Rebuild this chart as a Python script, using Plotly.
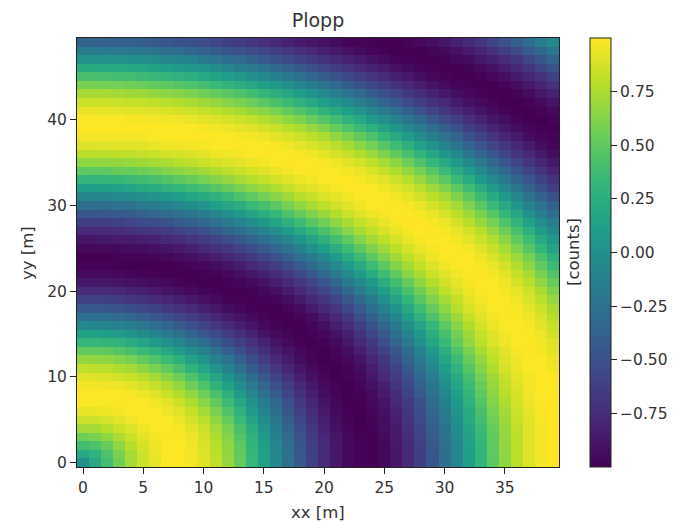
import numpy as np
import plotly.graph_objects as go

x_values = list(range(40))
y_values = list(range(50))
x_ticks = [0, 5, 10, 15, 20, 25, 30, 35]
y_ticks = [0, 10, 20, 30, 40]
cbar_ticks = [-0.75, -0.5, -0.25, 0, 0.25, 0.5, 0.75]

# cell values, in hundredths of a count; first row is yy = 0
counts_x100 = [
[0,20,39,56,72,84,93,99,100,97,91,81,68,52,33,14,-6,-26,-44,-61,-76,-87,-95,-99,-100,-96,-88,-77,-63,-46,-28,-8,12,31,49,66,79,90,97,100],
[20,28,43,59,73,85,94,99,100,97,90,80,67,51,33,13,-7,-26,-45,-61,-76,-87,-95,-99,-100,-96,-88,-77,-63,-46,-27,-8,12,31,50,66,80,90,97,100],
[39,43,53,66,78,88,95,100,100,96,89,79,66,50,31,12,-8,-27,-46,-62,-76,-88,-95,-99,-100,-96,-87,-76,-62,-45,-27,-7,13,32,50,67,80,91,98,100],
[56,59,66,75,84,92,97,100,99,95,87,76,62,46,28,8,-12,-32,-48,-64,-78,-88,-96,-99,-100,-95,-86,-75,-60,-43,-25,-5,14,33,51,67,80,91,97,100],
[72,73,78,84,90,96,99,100,98,92,84,72,58,41,23,3,-17,-36,-53,-68,-81,-91,-97,-100,-99,-93,-85,-73,-58,-41,-23,-3,17,36,53,68,81,91,97,100],
[84,85,88,92,96,99,100,99,95,88,79,66,52,35,17,-2,-20,-40,-57,-71,-83,-92,-98,-100,-98,-93,-83,-70,-55,-38,-19,1,21,39,56,71,83,92,98,100],
[93,94,95,97,99,100,99,96,91,83,72,59,44,28,9,-9,-28,-45,-61,-75,-86,-94,-99,-100,-97,-91,-81,-69,-52,-35,-16,3,22,41,58,72,84,93,98,100],
[99,99,99,100,100,99,96,92,85,76,64,51,36,19,1,-17,-34,-51,-66,-79,-89,-96,-100,-100,-96,-89,-78,-65,-49,-31,-12,7,27,45,62,76,87,95,99,100],
[100,100,100,99,98,95,91,85,77,67,55,41,26,9,-8,-26,-42,-58,-71,-83,-92,-98,-100,-99,-94,-86,-75,-60,-44,-26,-7,12,31,49,65,78,88,96,99,100],
[97,97,96,95,92,88,83,76,67,56,44,29,14,-2,-19,-35,-51,-64,-77,-87,-95,-99,-100,-97,-91,-83,-70,-56,-39,-21,-2,17,36,53,68,81,90,97,100,99],
[91,90,89,87,84,79,72,64,55,44,31,17,2,-13,-29,-45,-59,-71,-83,-91,-97,-100,-99,-96,-88,-78,-65,-51,-34,-16,3,22,40,57,71,83,92,97,100,100],
[81,80,79,76,72,66,59,51,41,29,17,3,-11,-26,-41,-55,-68,-79,-88,-95,-99,-100,-98,-93,-84,-73,-59,-44,-26,-8,11,29,47,63,76,87,95,99,100,97],
[68,67,66,62,58,52,44,36,26,14,2,-11,-25,-39,-52,-64,-76,-85,-93,-98,-100,-99,-96,-89,-79,-67,-52,-36,-19,-1,18,36,53,67,80,90,96,100,99,95],
[52,51,50,46,41,35,28,19,9,-2,-13,-26,-39,-51,-62,-73,-83,-90,-96,-99,-100,-97,-92,-84,-73,-60,-45,-29,-11,7,25,43,59,73,84,92,98,100,98,93],
[33,33,31,28,23,17,9,1,-8,-19,-29,-41,-52,-62,-72,-81,-89,-95,-99,-100,-99,-95,-87,-78,-66,-52,-36,-19,-1,17,35,52,67,80,89,96,99,100,97,91],
[14,13,12,8,3,-2,-9,-17,-26,-35,-45,-55,-64,-73,-81,-89,-95,-98,-100,-99,-96,-90,-82,-71,-58,-44,-28,-10,7,24,41,57,71,82,91,97,100,99,95,87],
[-6,-7,-8,-11,-15,-20,-28,-34,-42,-51,-59,-68,-76,-83,-89,-95,-98,-100,-100,-97,-92,-84,-75,-63,-49,-34,-18,-1,17,33,49,64,77,87,94,99,100,98,92,84],
[-26,-26,-27,-30,-34,-40,-45,-51,-58,-64,-71,-79,-85,-90,-95,-98,-100,-100,-97,-93,-86,-77,-66,-53,-39,-24,-7,10,27,43,58,71,82,91,97,100,99,96,89,79],
[-44,-45,-46,-48,-52,-57,-60,-66,-71,-77,-83,-88,-93,-96,-99,-100,-100,-97,-93,-86,-78,-68,-56,-43,-28,-12,4,21,37,52,66,78,88,94,99,100,98,93,85,74],
[-61,-61,-62,-64,-68,-71,-75,-79,-83,-87,-91,-95,-98,-99,-100,-99,-97,-93,-86,-78,-68,-58,-45,-31,-16,0,16,32,47,61,73,83,92,97,100,99,96,89,80,68],
[-76,-76,-76,-78,-81,-83,-86,-89,-92,-95,-97,-99,-100,-100,-99,-96,-92,-86,-78,-68,-58,-46,-33,-19,-4,12,27,42,56,69,80,89,95,99,100,98,93,85,75,61],
[-87,-87,-88,-89,-91,-92,-94,-96,-98,-99,-100,-100,-99,-97,-95,-90,-84,-77,-68,-58,-46,-34,-19,-5,9,24,39,53,66,77,86,93,98,100,99,95,88,79,67,53],
[-95,-95,-95,-96,-97,-98,-99,-100,-100,-100,-99,-98,-96,-92,-87,-82,-75,-66,-56,-45,-33,-19,-6,8,23,37,50,64,74,84,91,97,100,100,97,92,83,73,59,44],
[-99,-99,-99,-100,-100,-100,-100,-100,-99,-97,-96,-93,-89,-84,-78,-71,-63,-53,-43,-31,-19,-5,8,22,36,49,62,73,82,90,96,99,100,98,94,87,77,65,51,36],
[-100,-100,-100,-99,-99,-98,-97,-96,-94,-91,-88,-84,-79,-73,-66,-58,-49,-39,-28,-16,-4,9,23,36,49,61,72,81,88,95,99,100,99,95,89,80,70,58,43,26],
[-96,-96,-96,-95,-94,-93,-91,-89,-86,-83,-78,-73,-67,-60,-52,-44,-34,-24,-12,0,12,24,37,49,61,71,80,88,94,98,100,99,97,91,83,73,61,47,32,15],
[-88,-88,-87,-86,-85,-83,-81,-78,-75,-70,-65,-59,-52,-45,-36,-28,-18,-7,4,16,27,39,50,62,72,80,88,94,98,100,100,97,92,85,76,65,51,37,21,5],
[-77,-77,-76,-75,-73,-70,-68,-65,-60,-56,-51,-44,-36,-29,-19,-10,-1,10,21,32,42,53,64,73,81,88,94,98,100,100,98,93,87,78,67,55,41,26,10,-6],
[-63,-63,-62,-60,-58,-55,-52,-49,-44,-39,-33,-26,-19,-11,-2,7,17,27,37,47,56,66,74,82,88,94,98,100,100,98,94,87,79,69,58,44,30,14,-2,-17],
[-46,-46,-45,-44,-41,-38,-35,-31,-26,-21,-16,-8,-1,7,16,24,33,43,52,61,69,77,84,90,95,98,100,100,98,94,88,80,71,59,47,33,18,2,-14,-29],
[-28,-27,-27,-25,-23,-19,-16,-12,-7,-2,3,11,18,25,35,41,49,58,66,73,80,86,91,96,99,100,100,98,94,88,81,72,61,48,35,20,5,-10,-25,-39],
[-8,-8,-7,-5,-3,0,3,7,12,17,22,29,36,43,50,57,64,71,78,83,89,93,97,99,100,99,97,93,87,80,72,61,49,36,22,7,-8,-23,-37,-51],
[12,12,13,14,17,21,23,27,31,36,40,47,53,59,65,71,76,82,88,91,95,98,100,100,99,97,92,87,79,71,61,49,37,23,9,-6,-21,-36,-49,-62],
[31,31,32,33,36,38,41,45,49,53,58,63,67,73,78,82,87,91,94,97,99,100,100,98,95,91,85,78,69,59,48,36,23,9,-5,-19,-34,-47,-60,-71],
[49,50,50,53,53,56,58,62,65,68,71,76,80,84,88,91,94,97,99,100,100,99,97,94,89,83,76,67,58,47,35,22,9,-5,-18,-33,-46,-58,-70,-80],
[66,66,67,67,69,71,73,75,78,81,84,87,90,92,95,97,99,100,100,99,98,95,92,87,80,73,65,55,44,33,20,7,-6,-19,-33,-46,-58,-69,-79,-87],
[79,80,80,81,81,83,84,87,88,90,92,95,96,98,99,100,100,99,98,96,93,88,83,77,70,61,51,41,30,18,5,-8,-21,-34,-46,-58,-69,-78,-86,-93],
[90,90,90,91,91,92,94,95,96,97,98,99,100,100,100,99,98,96,93,89,85,79,73,65,57,47,37,26,14,2,-10,-23,-36,-47,-58,-69,-78,-86,-93,-97],
[97,97,97,97,97,98,99,99,100,100,100,100,99,98,97,95,92,89,85,80,75,67,59,51,43,32,21,10,-2,-14,-25,-37,-49,-60,-70,-79,-86,-93,-97,-99],
[100,100,100,100,100,100,100,100,99,99,98,97,95,93,91,87,84,79,74,68,61,53,44,36,26,15,5,-6,-17,-29,-39,-51,-62,-71,-80,-87,-93,-97,-99,-100],
[99,99,99,99,98,98,97,96,96,94,92,90,88,85,82,77,72,66,61,53,46,38,29,20,9,-1,-11,-22,-33,-44,-54,-64,-73,-81,-88,-93,-97,-100,-100,-99],
[94,94,93,93,92,91,91,89,87,85,83,80,77,73,68,64,58,52,45,38,29,21,12,3,-7,-17,-28,-38,-49,-58,-67,-76,-83,-89,-94,-98,-100,-100,-98,-95],
[85,85,85,84,83,82,81,79,77,74,71,67,63,59,54,48,42,36,28,20,12,4,-5,-15,-24,-35,-44,-54,-62,-71,-78,-85,-91,-95,-98,-100,-100,-98,-95,-89],
[73,73,73,72,71,70,67,65,63,60,56,52,48,43,38,32,25,18,10,3,-5,-14,-23,-31,-41,-50,-58,-67,-74,-81,-87,-92,-96,-99,-100,-100,-98,-94,-88,-81],
[58,58,57,57,56,54,51,49,46,43,39,35,30,25,19,13,7,-1,-7,-16,-24,-32,-41,-49,-56,-64,-72,-78,-84,-89,-94,-97,-99,-100,-100,-97,-93,-87,-80,-72],
[41,41,40,39,38,36,34,32,28,25,20,15,11,6,0,-6,-12,-19,-26,-34,-41,-49,-56,-63,-70,-76,-82,-87,-92,-96,-98,-100,-100,-99,-96,-92,-85,-79,-71,-61],
[22,22,21,20,19,17,15,12,9,5,2,-2,-8,-14,-18,-24,-31,-37,-44,-51,-57,-64,-70,-76,-81,-86,-91,-94,-97,-99,-100,-100,-98,-95,-90,-84,-77,-69,-59,-49],
[3,3,3,2,1,-1,-3,-7,-9,-12,-18,-22,-27,-32,-37,-43,-49,-54,-60,-66,-71,-76,-81,-86,-90,-94,-97,-99,-100,-100,-99,-96,-93,-87,-82,-75,-67,-57,-46,-36],
[-17,-17,-18,-19,-20,-22,-24,-27,-30,-34,-38,-41,-46,-50,-54,-58,-64,-68,-73,-78,-83,-87,-91,-94,-97,-99,-100,-100,-100,-98,-95,-91,-85,-79,-72,-63,-54,-43,-33,-22],
[-37,-37,-38,-39,-39,-41,-44,-46,-49,-51,-54,-58,-62,-65,-69,-73,-77,-81,-85,-88,-91,-94,-97,-98,-99,-100,-100,-98,-96,-92,-88,-82,-76,-69,-59,-50,-40,-29,-17,-6],
]

FONT = "DejaVu Sans"
INK = "#333333"
TICK_SIZE = 15.5
LABEL_SIZE = 16.5
W, H = 675, 522
L, R, T, B = 77, 559, 38, 467

z = np.array(counts_x100) / 100

fig = go.Figure(go.Heatmap(
    x=x_values, y=y_values, z=z,
    colorscale="Viridis", zmin=-1, zmax=1,
    colorbar=dict(
        thickness=21, thicknessmode="pixels",
        len=B - T, lenmode="pixels",
        x=(590 - L) / (R - L), xanchor="left", xpad=0,
        y=0.5, yanchor="middle", ypad=0,
        outlinecolor="#222222", outlinewidth=1,
        ticks="outside", ticklen=6, tickwidth=1, tickcolor="#222222",
        tickvals=cbar_ticks, tickformat=".2f",
        tickfont=dict(family=FONT, size=TICK_SIZE, color=INK),
    ),
))

axis_common = dict(
    showgrid=False, zeroline=False, showline=True, mirror=True,
    linecolor="#222222", linewidth=1,
    ticks="outside", ticklen=6, tickwidth=1, tickcolor="#222222",
    tickfont=dict(family=FONT, size=TICK_SIZE, color=INK),
)


def side_label(text, px, py, angle=0):
    return dict(
        text=text, textangle=angle, showarrow=False,
        xref="paper", yref="paper", xanchor="center", yanchor="middle",
        x=(px - L) / (R - L), y=(B - py) / (B - T),
        font=dict(family=FONT, size=LABEL_SIZE, color=INK),
    )


fig.update_layout(
    width=W, height=H, autosize=False,
    margin=dict(l=L, r=W - R, t=T, b=H - B, pad=0, autoexpand=False),
    paper_bgcolor="white", plot_bgcolor="white",
    font=dict(family=FONT, size=LABEL_SIZE, color=INK),
    title=dict(text="Plopp", x=(L + R) / 2 / W, xanchor="center",
               y=1 - 20 / H, yanchor="middle",
               font=dict(family=FONT, size=19, color=INK)),
    xaxis=dict(range=[-0.5, 39.5], tickvals=x_ticks, **axis_common),
    yaxis=dict(range=[-0.5, 49.5], tickvals=y_ticks, **axis_common),
    annotations=[
        side_label("xx [m]", (L + R) / 2, 512),
        side_label("yy [m]", 27, 253, -90),
        side_label("[counts]", 573, 252, -90),
    ],
)

fig.write_html("out.html", config={"displayModeBar": False},
               post_script="document.body.style.margin='0';")
